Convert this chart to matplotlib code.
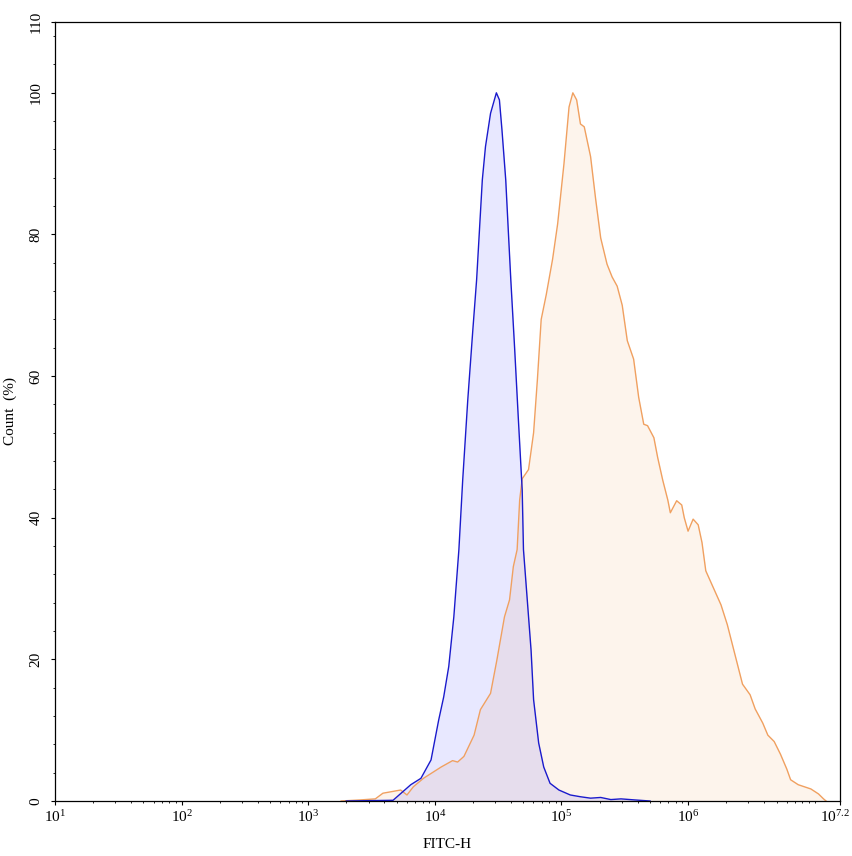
import numpy as np
import matplotlib
matplotlib.use("Agg")
import matplotlib.pyplot as plt
from matplotlib.ticker import FixedLocator, NullFormatter
from matplotlib.transforms import ScaledTranslation

plt.rcParams['font.family'] = ['Liberation Serif', 'DejaVu Serif']
plt.rcParams['mathtext.fontset'] = 'custom'
plt.rcParams['mathtext.rm'] = 'Liberation Serif'

# control sample (blue), log10 of FITC-H and count in %
blue_log = [3.30, 3.67, 3.81, 3.89, 3.97, 4.03, 4.07, 4.11, 4.15, 4.19, 4.22, 4.26,
            4.30, 4.33, 4.36, 4.375, 4.40, 4.44, 4.486, 4.51, 4.53, 4.56, 4.58, 4.60,
            4.63, 4.66, 4.69, 4.70, 4.73, 4.76, 4.78, 4.82, 4.86, 4.91, 4.98, 5.07,
            5.15, 5.23, 5.31, 5.39, 5.47, 5.58, 5.70]
blue_pct = [0, 0.1, 2.3, 3.2, 5.8, 11.4, 14.7, 19, 26, 35.5, 45.3, 56.6,
            66.5, 73.6, 83, 87.7, 92.4, 97.1, 100, 99, 94.8, 87.7, 80.6, 73.6,
            64, 53.8, 43.9, 35.5, 28.4, 21.3, 14.3, 8.2, 4.8, 2.5, 1.55, 0.85,
            0.6, 0.4, 0.5, 0.2, 0.3, 0.15, 0]

# stained sample (orange)
orange_log = [3.26, 3.41, 3.53, 3.59, 3.73, 3.78, 3.83, 3.91, 4.05, 4.14, 4.18, 4.23,
              4.31, 4.36, 4.44, 4.49, 4.55, 4.59, 4.62, 4.65, 4.67, 4.69, 4.74, 4.78,
              4.81, 4.84, 4.88, 4.93, 4.97, 5.02, 5.06, 5.09, 5.12, 5.15, 5.18, 5.23,
              5.27, 5.31, 5.36, 5.40, 5.44, 5.48, 5.52, 5.57, 5.61, 5.65, 5.68, 5.73,
              5.76, 5.80, 5.84, 5.86, 5.91, 5.95, 5.97, 6.00, 6.04, 6.08, 6.11, 6.14,
              6.19, 6.26, 6.31, 6.38, 6.43, 6.49, 6.53, 6.59, 6.63, 6.68, 6.73, 6.78,
              6.81, 6.87, 6.97, 7.03, 7.07, 7.09]
orange_pct = [0, 0.15, 0.3, 1.1, 1.55, 0.85, 2.0, 3.2, 4.8, 5.7, 5.5, 6.3,
              9.3, 12.9, 15.2, 19.9, 26, 28.4, 33.1, 35.5, 42.5, 45.5, 46.8, 52,
              59.5, 68, 71.5, 76.5, 81.5, 90, 98, 100, 99, 95.6, 95.2, 91,
              85, 79.5, 75.8, 74, 72.7, 70, 65, 62.4, 57, 53.2, 53, 51.3,
              48.5, 45.3, 42.5, 40.7, 42.4, 41.8, 40, 38.1, 39.8, 39, 36.5, 32.5,
              30.5, 27.7, 24.9, 20, 16.5, 15, 13, 11, 9.3, 8.4, 6.6, 4.5,
              3.0, 2.3, 1.7, 1.0, 0.3, 0]

blue_x = 10 ** np.array(blue_log)
orange_x = 10 ** np.array(orange_log)

fig = plt.figure(figsize=(8.53, 8.56), dpi=100)
ax = fig.add_axes([55 / 853, 1 - 801 / 856, 785 / 853, 779 / 856])

ax.fill_between(orange_x, orange_pct, color='#f09a4c', alpha=0.1, linewidth=0)
ax.plot(orange_x, orange_pct, color='#f0a060', linewidth=1)
ax.fill_between(blue_x, blue_pct, color='#0000ff', alpha=0.09, linewidth=0)
ax.plot(blue_x, blue_pct, color='#1a1acc', linewidth=1)

ax.set_xscale('log')
ax.set_xlim(10 ** 1, 10 ** 7.2)
ax.set_ylim(0, 110)

xt = [10 ** 1, 10 ** 2, 10 ** 3, 10 ** 4, 10 ** 5, 10 ** 6, 10 ** 7.2]
xl = [r'$\mathregular{10^{1}}$', r'$\mathregular{10^{2}}$', r'$\mathregular{10^{3}}$',
      r'$\mathregular{10^{4}}$', r'$\mathregular{10^{5}}$', r'$\mathregular{10^{6}}$',
      r'$\mathregular{10^{7.2}}$']
ax.set_xticks(xt)
ax.set_xticklabels(xl, fontsize=11)
minor = [m * 10 ** d for d in range(1, 7) for m in range(2, 10)] + [10 ** 7]
ax.xaxis.set_minor_locator(FixedLocator(minor))
ax.xaxis.set_minor_formatter(NullFormatter())

ax.set_yticks([0, 20, 40, 60, 80, 100, 110])
ax.set_yticklabels(['0', '20', '40', '60', '80', '100', '110'], rotation=90,
                   va='center', fontsize=11)
ax.yaxis.set_minor_locator(FixedLocator(list(range(0, 110, 4))))

ax.tick_params(axis='both', which='major', direction='out', length=2.8, width=0.8, pad=3)
ax.tick_params(axis='both', which='minor', direction='out', length=1.6, width=0.6)
ax.tick_params(axis='y', which='major', pad=6)

# last label sits at the right edge, nudge it a bit left so it stays on the canvas
last = ax.xaxis.get_major_ticks()[-1].label1
last.set_transform(last.get_transform() + ScaledTranslation(-5 / 100, 0, fig.dpi_scale_trans))

for s in ax.spines.values():
    s.set_linewidth(0.9)

ax.set_xlabel('FITC-H', fontsize=11)
ax.set_ylabel('Count  (%)', fontsize=11)
ax.xaxis.set_label_coords(0.5, -0.0475)
ax.yaxis.set_label_coords(-0.0484, 0.5)

fig.savefig('out.png', dpi=100)
